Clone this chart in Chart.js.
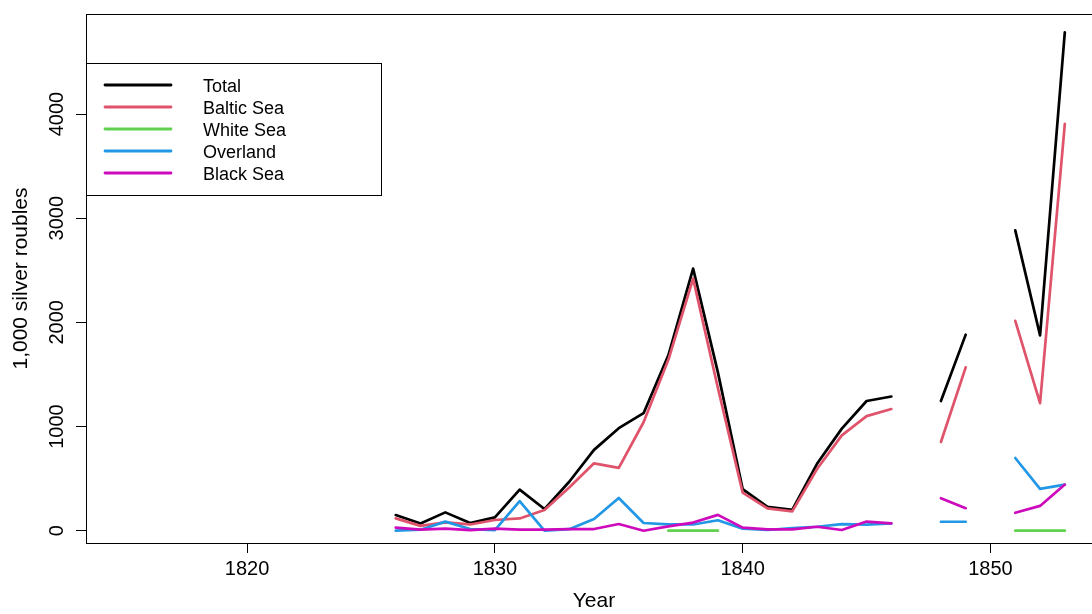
<!DOCTYPE html>
<html>
<head>
<meta charset="utf-8">
<script src="https://cdn.jsdelivr.net/npm/chart.js@4/dist/chart.umd.min.js"></script>
<style>
  html, body { margin: 0; padding: 0; background: #fff; overflow: hidden; }
  #wrap { position: relative; width: 1120px; height: 614px; }
</style>
</head>
<body>
<div id="wrap"><canvas id="chartTrade"></canvas></div>
<script>
// years 1826..1853, null where the series has no value
const years = [1826, 1827, 1828, 1829, 1830, 1831, 1832, 1833, 1834, 1835,
  1836, 1837, 1838, 1839, 1840, 1841, 1842, 1843, 1844, 1845,
  1846, 1847, 1848, 1849, 1850, 1851, 1852, 1853];

const total = [150, 70, 176, 74, 128, 394, 208, 470, 776, 984,
  1128, 1683, 2516, 1520, 400, 228, 200, 642, 980, 1245,
  1288, null, 1245, 1882, null, 2883, 1875, 4785];

const baltic = [118, 46, 80, 60, 103, 118, 198, 415, 647, 603,
  1041, 1640, 2420, 1370, 365, 215, 185, 592, 915, 1100,
  1168, null, 852, 1568, null, 2015, 1225, 3905];

const whiteSea = [null, null, null, null, null, null, null, null, null, null,
  null, 0, 0, 0, null, null, null, null, null, null,
  null, null, null, null, null, 0, 0, 0];

const overland = [0, 10, 87, 16, 5, 284, 0, 15, 112, 314,
  74, 60, 60, 100, 20, 7, 25, 38, 64, 58,
  70, null, 86, 86, null, 698, 402, 443];

const blackSea = [30, 10, 20, 5, 20, 10, 10, 15, 16, 64,
  0, 41, 78, 152, 30, 13, 12, 38, 7, 88,
  70, null, 312, 216, null, 172, 238, 443];

const xTicks = [1820, 1830, 1840, 1850];
const yTicks = [0, 1000, 2000, 3000, 4000];

const SERIES = [
  { label: 'Total', data: total, color: '#000000' },
  { label: 'Baltic Sea', data: baltic, color: '#DF536B' },
  { label: 'White Sea', data: whiteSea, color: '#61D04F' },
  { label: 'Overland', data: overland, color: '#2297E6' },
  { label: 'Black Sea', data: blackSea, color: '#CD0BBC' }
];

const FONT = "'Liberation Sans', Arial, sans-serif";

/**
 * Box round the plot, rotated y tick labels and the legend
 */
const decorations = {
  id: 'decorations',
  afterDraw(chart) {
    const ctx = chart.ctx;
    const a = chart.chartArea;
    ctx.save();

    // plot frame
    ctx.strokeStyle = '#000';
    ctx.lineWidth = 1;
    ctx.strokeRect(Math.round(a.left) + 0.5, Math.round(a.top) + 0.5,
      Math.round(a.right - a.left), Math.round(a.bottom - a.top));

    // y tick labels, written upwards like R does
    const ys = chart.scales.y;
    ctx.fillStyle = '#000';
    ctx.font = '20px ' + FONT;
    ctx.textAlign = 'center';
    ctx.textBaseline = 'alphabetic';
    yTicks.forEach(v => {
      ctx.save();
      ctx.translate(63, ys.getPixelForValue(v));
      ctx.rotate(-Math.PI / 2);
      ctx.fillText(String(v), 0, 0);
      ctx.restore();
    });

    // legend
    const lx = 86.5, ly = 63.5, lw = 295, lh = 132;
    ctx.fillStyle = '#fff';
    ctx.fillRect(lx, ly, lw, lh);
    ctx.strokeRect(lx, ly, lw, lh);
    ctx.font = '18px ' + FONT;
    ctx.textAlign = 'left';
    chart.data.datasets.forEach((ds, i) => {
      const rowY = 85 + i * 22;
      ctx.strokeStyle = ds.borderColor;
      ctx.lineWidth = 2.8;
      ctx.lineCap = 'round';
      ctx.beginPath();
      ctx.moveTo(105, rowY);
      ctx.lineTo(171, rowY);
      ctx.stroke();
      ctx.fillStyle = '#000';
      ctx.fillText(ds.label, 203, rowY + 6.6);
    });
    ctx.restore();
  }
};

const canvas = document.getElementById('chartTrade');
const ctx = canvas.getContext('2d');

const datasets = SERIES.map((s, idx) => ({
  label: s.label,
  data: s.data.map((v, i) => ({ x: years[i], y: v })),
  borderColor: s.color,
  backgroundColor: s.color,
  borderWidth: 2.7,
  pointRadius: 0,
  tension: 0,
  spanGaps: false,
  borderCapStyle: 'round',
  borderJoinStyle: 'round',
  order: SERIES.length - idx
}));

const chart = new Chart(ctx, {
  type: 'line',
  data: { datasets },
  plugins: [decorations],
  options: {
    responsive: true,
    maintainAspectRatio: false,
    animation: false,
    devicePixelRatio: 1,
    layout: { padding: { left: 0, top: 14, right: 18, bottom: 0 } },
    plugins: {
      legend: { display: false },
      tooltip: { enabled: false }
    },
    scales: {
      x: {
        type: 'linear',
        min: 1813.5,
        max: 1854.5,
        afterBuildTicks: s => { s.ticks = xTicks.map(v => ({ value: v })); },
        afterFit: s => { s.height = 71; },
        border: { display: false },
        grid: { drawOnChartArea: false, drawTicks: true, tickLength: 10, color: '#000', lineWidth: 1 },
        ticks: {
          color: '#000',
          font: { family: FONT, size: 20 },
          padding: 4,
          maxRotation: 0,
          autoSkip: false,
          callback: v => String(v)
        },
        title: {
          display: true,
          text: 'Year',
          color: '#000',
          font: { family: FONT, size: 21 },
          padding: { top: 0, bottom: 0 }
        }
      },
      y: {
        min: -118,
        max: 4960,
        afterBuildTicks: s => { s.ticks = yTicks.map(v => ({ value: v })); },
        afterFit: s => { s.width = 86; },
        border: { display: false },
        grid: { drawOnChartArea: false, drawTicks: true, tickLength: 10, color: '#000', lineWidth: 1 },
        ticks: { display: false },
        title: {
          display: true,
          text: '1,000 silver roubles',
          color: '#000',
          font: { family: FONT, size: 21 },
          padding: { top: 9, bottom: 0 }
        }
      }
    }
  }
});
</script>
</body>
</html>
